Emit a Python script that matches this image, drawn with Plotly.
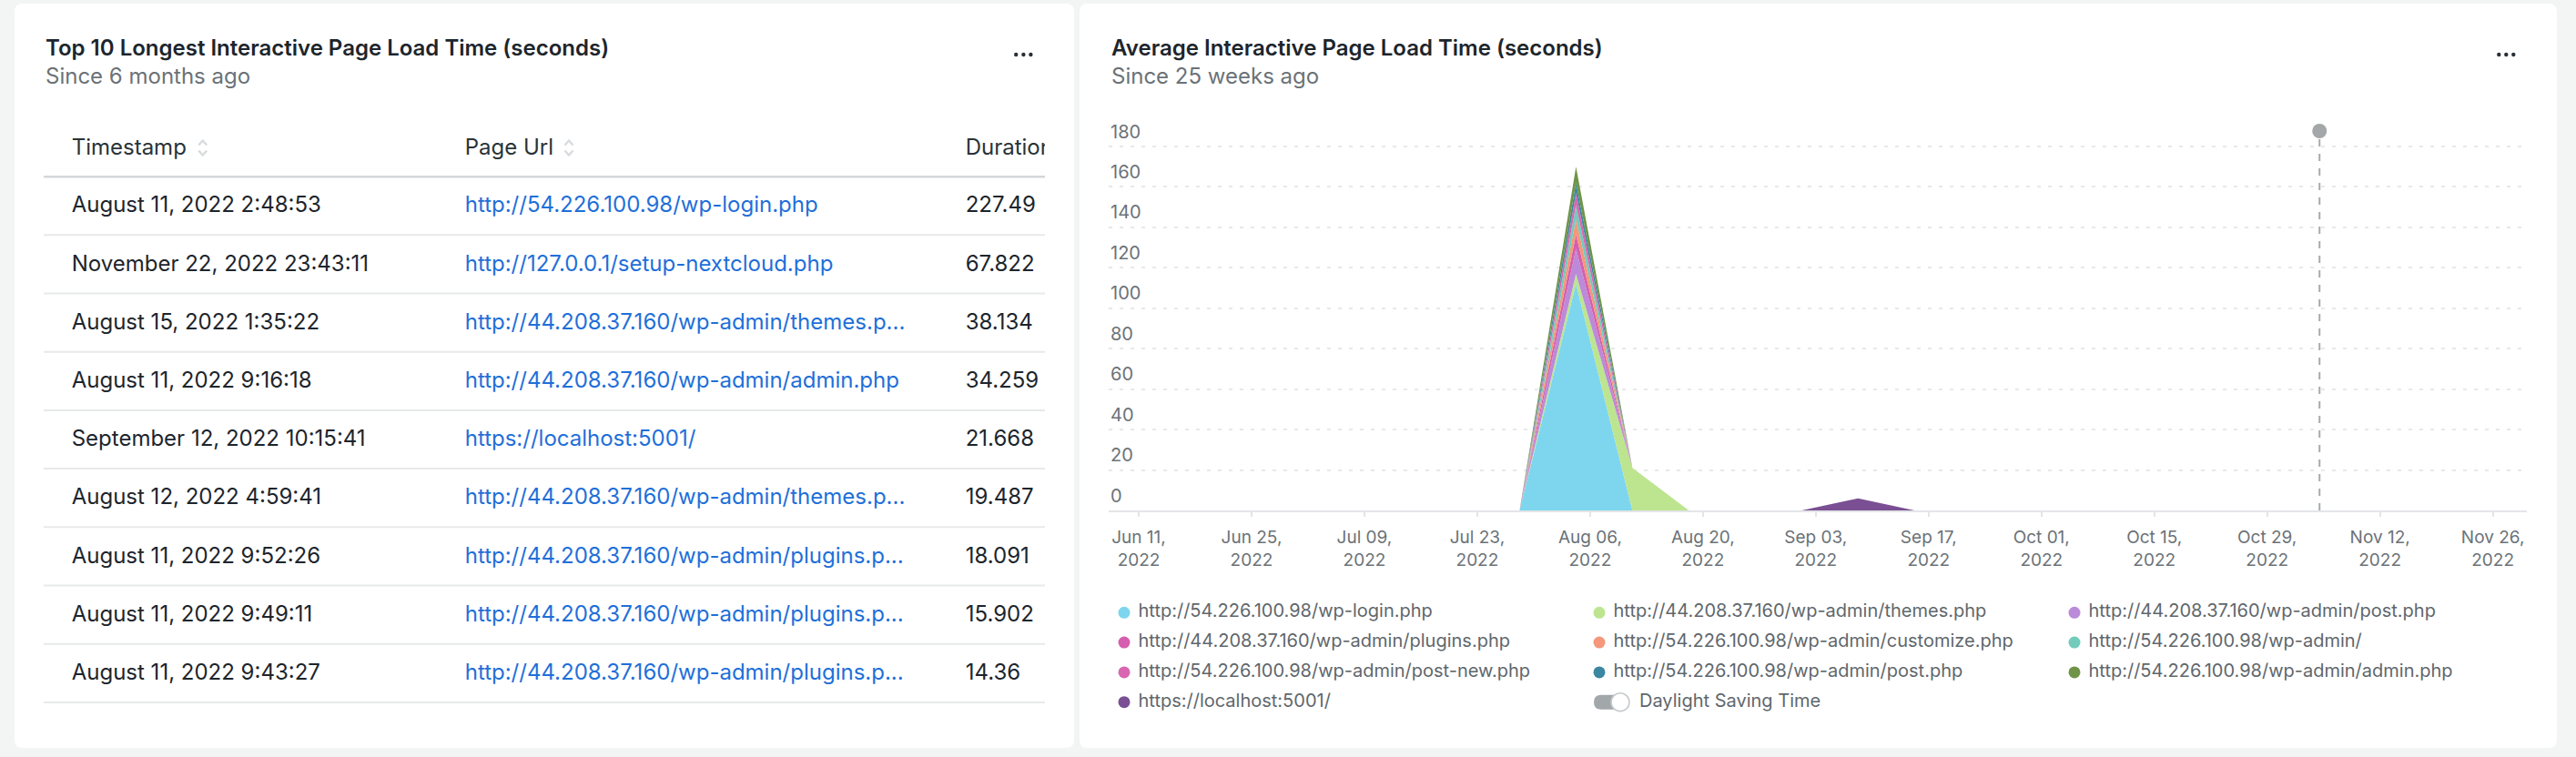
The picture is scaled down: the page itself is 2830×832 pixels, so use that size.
import plotly.graph_objects as go

W, H = 2830, 832
FONT = "Inter"

# ---------------- table data ----------------
LEFT_TITLE = "Top 10 Longest Interactive Page Load Time (seconds)"
LEFT_SUBTITLE = "Since 6 months ago"
TABLE_HEADERS = ["Timestamp", "Page Url", "Duration"]
TIMESTAMPS = [
    "August 11, 2022 2:48:53", "November 22, 2022 23:43:11", "August 15, 2022 1:35:22",
    "August 11, 2022 9:16:18", "September 12, 2022 10:15:41", "August 12, 2022 4:59:41",
    "August 11, 2022 9:52:26", "August 11, 2022 9:49:11", "August 11, 2022 9:43:27",
]
PAGE_URLS = [
    "http://54.226.100.98/wp-login.php", "http://127.0.0.1/setup-nextcloud.php",
    "http://44.208.37.160/wp-admin/themes.p...", "http://44.208.37.160/wp-admin/admin.php",
    "https://localhost:5001/", "http://44.208.37.160/wp-admin/themes.p...",
    "http://44.208.37.160/wp-admin/plugins.p...", "http://44.208.37.160/wp-admin/plugins.p...",
    "http://44.208.37.160/wp-admin/plugins.p...",
]
DURATIONS = ["227.49", "67.822", "38.134", "34.259", "21.668", "19.487", "18.091", "15.902", "14.36"]

# ---------------- chart data ----------------
RIGHT_TITLE = "Average Interactive Page Load Time (seconds)"
RIGHT_SUBTITLE = "Since 25 weeks ago"
WEEKS = [
    "2022-06-09 06:00", "2022-06-16 06:00", "2022-06-23 06:00", "2022-06-30 06:00",
    "2022-07-07 06:00", "2022-07-14 06:00", "2022-07-21 06:00", "2022-07-28 06:00",
    "2022-08-04 06:00", "2022-08-11 06:00", "2022-08-18 06:00", "2022-08-25 06:00",
    "2022-09-01 06:00", "2022-09-08 06:00", "2022-09-15 06:00", "2022-09-22 06:00",
    "2022-09-29 06:00", "2022-10-06 06:00", "2022-10-13 06:00", "2022-10-20 06:00",
    "2022-10-27 06:00", "2022-11-03 06:00", "2022-11-10 06:00", "2022-11-17 06:00",
    "2022-11-24 06:00",
]
SERIES_NAMES = [
    "http://54.226.100.98/wp-login.php",
    "http://44.208.37.160/wp-admin/themes.php",
    "http://44.208.37.160/wp-admin/post.php",
    "http://44.208.37.160/wp-admin/plugins.php",
    "http://54.226.100.98/wp-admin/customize.php",
    "http://54.226.100.98/wp-admin/",
    "http://54.226.100.98/wp-admin/post-new.php",
    "http://54.226.100.98/wp-admin/post.php",
    "http://54.226.100.98/wp-admin/admin.php",
    "https://localhost:5001/",
]
WP_LOGIN      = [0, 0, 0, 0, 0, 0, 0, 0, 112, 0, 0, 0, 0, 0, 0, 0, 0, 0, 0, 0, 0, 0, 0, 0, 0]
THEMES        = [0, 0, 0, 0, 0, 0, 0, 0, 5, 21, 0, 0, 0, 0, 0, 0, 0, 0, 0, 0, 0, 0, 0, 0, 0]
POST_44       = [0, 0, 0, 0, 0, 0, 0, 0, 12.5, 0, 0, 0, 0, 0, 0, 0, 0, 0, 0, 0, 0, 0, 0, 0, 0]
PLUGINS       = [0, 0, 0, 0, 0, 0, 0, 0, 7, 0, 0, 0, 0, 0, 0, 0, 0, 0, 0, 0, 0, 0, 0, 0, 0]
CUSTOMIZE     = [0, 0, 0, 0, 0, 0, 0, 0, 7.5, 0, 0, 0, 0, 0, 0, 0, 0, 0, 0, 0, 0, 0, 0, 0, 0]
WP_ADMIN      = [0, 0, 0, 0, 0, 0, 0, 0, 7, 0, 0, 0, 0, 0, 0, 0, 0, 0, 0, 0, 0, 0, 0, 0, 0]
POST_NEW      = [0, 0, 0, 0, 0, 0, 0, 0, 6, 0, 0, 0, 0, 0, 0, 0, 0, 0, 0, 0, 0, 0, 0, 0, 0]
POST_54       = [0, 0, 0, 0, 0, 0, 0, 0, 5, 0, 0, 0, 0, 0, 0, 0, 0, 0, 0, 0, 0, 0, 0, 0, 0]
ADMIN_54      = [0, 0, 0, 0, 0, 0, 0, 0, 8, 0, 0, 0, 0, 0, 0, 0, 0, 0, 0, 0, 0, 0, 0, 0, 0]
LOCALHOST     = [0, 0, 0, 0, 0, 0, 0, 0, 0, 0, 0, 0, 0, 6, 0, 0, 0, 0, 0, 0, 0, 0, 0, 0, 0]
SERIES_VALUES = [WP_LOGIN, THEMES, POST_44, PLUGINS, CUSTOMIZE, WP_ADMIN, POST_NEW, POST_54, ADMIN_54, LOCALHOST]
SERIES_COLORS = ["#7dd6ee", "#bde58f", "#bb8ad9", "#d55fae", "#f5977a",
                 "#72cbbb", "#d966b0", "#3b86a0", "#6f9448", "#7a4f93"]

X_RANGE = ["2022-06-07 06:30", "2022-11-30 05:20"]
TICK_DATES = ["2022-06-11", "2022-06-25", "2022-07-09", "2022-07-23", "2022-08-06", "2022-08-20",
              "2022-09-03", "2022-09-17", "2022-10-01", "2022-10-15", "2022-10-29", "2022-11-12",
              "2022-11-26"]
TICK_MONTHDAY = ["Jun 11,", "Jun 25,", "Jul 09,", "Jul 23,", "Aug 06,", "Aug 20,", "Sep 03,",
                 "Sep 17,", "Oct 01,", "Oct 15,", "Oct 29,", "Nov 12,", "Nov 26,"]
TICK_YEAR = "2022"
Y_TICKS = [0, 20, 40, 60, 80, 100, 120, 140, 160, 180]
DST_DATE = "2022-11-04 12:00"
DST_LABEL = "Daylight Saving Time"

# ---------------- layout constants (pixels) ----------------
BG = "#f3f4f4"
DARK = "#1d252c"
GRAY = "#6b7277"
LINK = "#1f6fd9"
PLOT_L, PLOT_R, PLOT_B, PLOT_T = 1218, 2776, 561, 144
Y_TOP = 180 + (161 - PLOT_T) / ((PLOT_B - 161) / 180)


def px(x):
    return round(x / W, 6)


def py(y):
    return round(1 - y / H, 6)


fig = go.Figure()

# ---- stacked areas ----
for name, vals, col in zip(SERIES_NAMES, SERIES_VALUES, SERIES_COLORS):
    fig.add_trace(go.Scatter(
        x=WEEKS, y=vals, name=name, stackgroup="one", mode="lines",
        line=dict(width=0, color=col), fillcolor=col, showlegend=False,
        hovertemplate="%{y}<extra>" + name + "</extra>",
    ))

# DST marker
fig.add_trace(go.Scatter(x=[DST_DATE], y=[Y_TOP], mode="markers", cliponaxis=False,
                         marker=dict(size=16, color="#a3a7a8"), showlegend=False,
                         hoverinfo="skip"))

# ---- legend (canvas axis x3/y3 in pixels) ----
LEG_X0, LEG_DX, LEG_Y0, LEG_DY = 1235, 522, 673.3, 32.8
leg_x = [LEG_X0 + LEG_DX * (i % 3) for i in range(len(SERIES_NAMES))]
leg_y = [LEG_Y0 + LEG_DY * (i // 3) for i in range(len(SERIES_NAMES))]
fig.add_trace(go.Scatter(x=leg_x, y=leg_y, xaxis="x3", yaxis="y3", mode="markers",
                         marker=dict(size=13, color=SERIES_COLORS), cliponaxis=False,
                         showlegend=False, hoverinfo="skip"))
fig.add_trace(go.Scatter(x=[v + 15.5 for v in leg_x], y=leg_y, xaxis="x3", yaxis="y3",
                         mode="text", text=SERIES_NAMES, textposition="middle right",
                         textfont=dict(family=FONT, size=20, color="#5f676c"),
                         cliponaxis=False, showlegend=False, hoverinfo="skip"))
n = len(SERIES_NAMES)
dst_x = LEG_X0 + LEG_DX * (n % 3)
dst_y = LEG_Y0 + LEG_DY * (n // 3)
fig.add_trace(go.Scatter(x=[dst_x + 44], y=[dst_y], xaxis="x3", yaxis="y3",
                         mode="text", text=[DST_LABEL], textposition="middle right",
                         textfont=dict(family=FONT, size=20, color="#5f676c"),
                         cliponaxis=False, showlegend=False, hoverinfo="skip"))

# ---- table (axis x4/y4 clipped to table width) ----
TBL_L, TBL_R = 48, 1148
COL_X = [78.7, 510.7, 1060.7]
HEAD_Y, ROW_Y0, ROW_DY = 163.5, 227.3, 64.2
fig.add_trace(go.Scatter(x=COL_X, y=[HEAD_Y] * 3, xaxis="x4", yaxis="y4", mode="text",
                         text=TABLE_HEADERS, textposition="middle right",
                         textfont=dict(family=FONT, size=24, color="#293338"),
                         showlegend=False, hoverinfo="skip"))
rows_y = [ROW_Y0 + ROW_DY * i for i in range(len(TIMESTAMPS))]
for cx, vals, col in [(COL_X[0], TIMESTAMPS, DARK), (COL_X[1], PAGE_URLS, LINK),
                      (COL_X[2], DURATIONS, DARK)]:
    fig.add_trace(go.Scatter(x=[cx] * len(vals), y=rows_y, xaxis="x4", yaxis="y4",
                             mode="text", text=vals, textposition="middle right",
                             textfont=dict(family=FONT, size=24, color=col),
                             showlegend=False, hoverinfo="skip"))

# ---- shapes ----
shapes = []


def prect(x0, y0, x1, y1, fill):
    return dict(type="rect", xref="paper", yref="paper", x0=px(x0), x1=px(x1),
                y0=py(y1), y1=py(y0), fillcolor=fill, line=dict(width=0), layer="below")


# gray gutters around the two white cards (paper is white)
CARDS = [(16, 4, 1180, 822), (1186, 4, 2809, 822)]
shapes.append(prect(0, 0, W, 4, BG))
shapes.append(prect(0, 822, W, H, BG))
shapes.append(prect(0, 0, 16, H, BG))
shapes.append(prect(1180, 0, 1186, H, BG))
shapes.append(prect(2809, 0, W, H, BG))
R = 9
for (x0, y0, x1, y1) in CARDS:
    for (cx, cy, sx, sy) in [(x0, y0, 1, 1), (x1, y0, -1, 1), (x0, y1, 1, -1), (x1, y1, -1, -1)]:
        p = (f"M {px(cx)},{py(cy)} L {px(cx + sx * R)},{py(cy)} "
             f"Q {px(cx)},{py(cy)} {px(cx)},{py(cy + sy * R)} Z")
        shapes.append(dict(type="path", xref="paper", yref="paper", path=p, fillcolor=BG,
                           line=dict(width=0), layer="below"))

# header and row lines
shapes.append(dict(type="line", xref="paper", yref="paper", x0=px(TBL_L), x1=px(TBL_R),
                   y0=py(194.3), y1=py(194.3), line=dict(color="#d3d7da", width=2.5), layer="below"))
for i in range(len(TIMESTAMPS)):
    yy = 258.3 + ROW_DY * i
    shapes.append(dict(type="line", xref="paper", yref="paper", x0=px(TBL_L), x1=px(TBL_R),
                       y0=py(yy), y1=py(yy), line=dict(color="#e7e9ea", width=2), layer="below"))

# sort icons
for cx in [222.7, 625]:
    cy = 162.5
    for sgn in (-1, 1):
        p = (f"M {px(cx - 4.5)},{py(cy + sgn * 3)} L {px(cx)},{py(cy + sgn * 8)} "
             f"L {px(cx + 4.5)},{py(cy + sgn * 3)}")
        shapes.append(dict(type="path", xref="paper", yref="paper", path=p,
                           line=dict(color="#d9dcdf", width=2.5), layer="below"))

# menu dots
for cx in [1116.2, 1124.4, 1132.4, 2745.3, 2753.3, 2761.3]:
    shapes.append(dict(type="circle", xref="paper", yref="paper", x0=px(cx - 2.2), x1=px(cx + 2.2),
                       y0=py(60 - 2.2), y1=py(60 + 2.2), fillcolor="#2a3035",
                       line=dict(width=0), layer="below"))

# DST toggle icon in legend
tx0, tx1, ty0, ty1, tr = dst_x - 6, dst_x + 30, dst_y - 8, dst_y + 8, 8
p = (f"M {px(tx0 + tr)},{py(ty0)} L {px(tx1 - tr)},{py(ty0)} Q {px(tx1)},{py(ty0)} {px(tx1)},{py(ty0 + tr)} "
     f"Q {px(tx1)},{py(ty1)} {px(tx1 - tr)},{py(ty1)} L {px(tx0 + tr)},{py(ty1)} "
     f"Q {px(tx0)},{py(ty1)} {px(tx0)},{py(ty1 - tr)} Q {px(tx0)},{py(ty0)} {px(tx0 + tr)},{py(ty0)} Z")
shapes.append(dict(type="path", xref="paper", yref="paper", path=p, fillcolor="#a2a7aa",
                   line=dict(width=0), layer="below"))
shapes.append(dict(type="circle", xref="paper", yref="paper", x0=px(dst_x + 13), x1=px(dst_x + 33),
                   y0=py(dst_y - 10), y1=py(dst_y + 10), fillcolor="white",
                   line=dict(color="#c5c9cc", width=1.5), layer="below"))

# DST dashed line
shapes.append(dict(type="line", xref="x", yref="y", x0=DST_DATE, x1=DST_DATE, y0=0, y1=Y_TOP,
                   line=dict(color="#a6aaac", width=2, dash="8px,8px"), layer="below"))

# ---- annotations (titles, y tick labels) ----
ann = []
for x0, t, s in [(48, LEFT_TITLE, LEFT_SUBTITLE), (1218.7, RIGHT_TITLE, RIGHT_SUBTITLE)]:
    ann.append(dict(x=px(x0), y=py(52), xref="paper", yref="paper", xanchor="left", yanchor="middle",
                    text=t, showarrow=False,
                    font=dict(family=FONT, size=24, color=DARK, weight=600)))
    ann.append(dict(x=px(x0), y=py(83), xref="paper", yref="paper", xanchor="left", yanchor="middle",
                    text=s, showarrow=False, font=dict(family=FONT, size=24, color=GRAY)))

tick_font = dict(family=FONT, size=20, color=GRAY)
for v in Y_TICKS:
    ann.append(dict(x=X_RANGE[0], y=v, xref="x", yref="y", xanchor="left", yanchor="middle",
                    yshift=16.5, text=str(v), showarrow=False, font=tick_font))

fig.update_layout(
    width=W, height=H, margin=dict(l=0, r=0, t=0, b=0),
    paper_bgcolor="white", plot_bgcolor="rgba(0,0,0,0)",
    font=dict(family=FONT), showlegend=False,
    shapes=shapes, annotations=ann,
    xaxis=dict(domain=[px(PLOT_L), px(PLOT_R)], anchor="y", type="date", range=X_RANGE,
               tickmode="array", tickvals=TICK_DATES,
               ticktext=[f"{md}<br>{TICK_YEAR}" for md in TICK_MONTHDAY],
               showgrid=False, zeroline=False, showline=True, linecolor="#e3e5e8", linewidth=2,
               ticks="outside", ticklen=5, tickwidth=2, tickcolor="#e3e5e8",
               tickfont=dict(family=FONT, size=19, color=GRAY), ticklabelstandoff=6,
               fixedrange=True),
    yaxis=dict(domain=[py(PLOT_B), py(PLOT_T)], anchor="x", range=[0, Y_TOP],
               tickmode="array", tickvals=Y_TICKS, showticklabels=False,
               showgrid=True, gridcolor="#e6e8e9", gridwidth=2, griddash="4px,8px",
               zeroline=False, showline=False, ticks="", fixedrange=True),
    xaxis3=dict(domain=[0, 1], anchor="y3", range=[0, W], visible=False, fixedrange=True),
    yaxis3=dict(domain=[0, 1], anchor="x3", range=[H, 0], visible=False, fixedrange=True),
    xaxis4=dict(domain=[px(TBL_L), px(TBL_R)], anchor="y4", range=[TBL_L, TBL_R], visible=False,
                fixedrange=True),
    yaxis4=dict(domain=[0, 1], anchor="x4", range=[H, 0], visible=False, fixedrange=True),
)

fig.write_html("out.html", config={"displayModeBar": False},
               post_script="document.body.style.margin='0';document.body.style.overflow='hidden';")
